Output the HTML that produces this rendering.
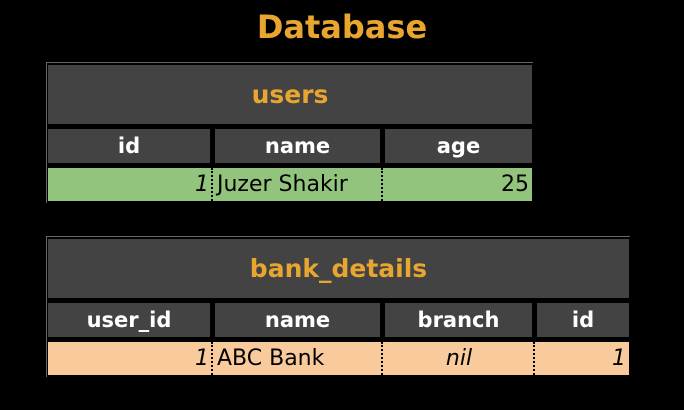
<!DOCTYPE html>
<html><head><style>
body{margin:0;width:684px;height:410px;background:#000;position:relative;overflow:hidden;font-family:"DejaVu Sans","Liberation Sans",sans-serif}
div{position:absolute;box-sizing:border-box}
.t{background:#434343;color:#e8a530;font-weight:bold;font-size:25px;display:flex;align-items:center;justify-content:center}
.h{background:#434343;color:#fff;font-weight:bold;font-size:21px;display:flex;align-items:center;justify-content:center}
.d{font-size:22px;color:#000;display:flex;align-items:center;padding:0 3px}
.r{justify-content:flex-end;font-style:italic}
.c{justify-content:center;font-style:italic}
.dot{border-left:2px dotted #000;width:2px}
</style></head><body>
<div style="left:0;top:8px;width:684px;text-align:center;color:#e8a530;font-weight:bold;font-size:32px">Database</div>

<div style="left:46px;top:62px;width:487px;height:1px;background:#666"></div>
<div style="left:46px;top:62px;width:1px;height:141px;background:#666"></div>
<div class="t" style="left:48px;top:65px;width:484px;height:59px">users</div>
<div class="h" style="left:48px;top:129px;width:162px;height:34px">id</div>
<div class="h" style="left:215px;top:129px;width:165px;height:34px">name</div>
<div class="h" style="left:385px;top:129px;width:147px;height:34px">age</div>
<div style="left:48px;top:168px;width:484px;height:33px;background:#93c47d"></div>
<div class="d r" style="left:48px;top:168px;width:164px;height:33px">1</div>
<div class="d" style="left:214px;top:168px;width:168px;height:33px">Juzer Shakir</div>
<div class="d" style="left:384px;top:168px;width:148px;height:33px;justify-content:flex-end">25</div>
<div class="dot" style="left:211px;top:168px;height:33px"></div>
<div class="dot" style="left:381px;top:168px;height:33px"></div>

<div style="left:46px;top:236px;width:584px;height:1px;background:#666"></div>
<div style="left:46px;top:236px;width:1px;height:141px;background:#666"></div>
<div class="t" style="left:48px;top:239px;width:581px;height:59px">bank_details</div>
<div class="h" style="left:48px;top:303px;width:162px;height:34px">user_id</div>
<div class="h" style="left:215px;top:303px;width:165px;height:34px">name</div>
<div class="h" style="left:385px;top:303px;width:147px;height:34px">branch</div>
<div class="h" style="left:537px;top:303px;width:92px;height:34px">id</div>
<div style="left:48px;top:342px;width:581px;height:33px;background:#f9cb9c"></div>
<div class="d r" style="left:48px;top:342px;width:164px;height:33px">1</div>
<div class="d" style="left:214px;top:342px;width:168px;height:33px">ABC Bank</div>
<div class="d c" style="left:384px;top:342px;width:150px;height:33px">nil</div>
<div class="d r" style="left:536px;top:342px;width:93px;height:33px">1</div>
<div class="dot" style="left:211px;top:342px;height:33px"></div>
<div class="dot" style="left:381px;top:342px;height:33px"></div>
<div class="dot" style="left:533px;top:342px;height:33px"></div>
</body></html>
